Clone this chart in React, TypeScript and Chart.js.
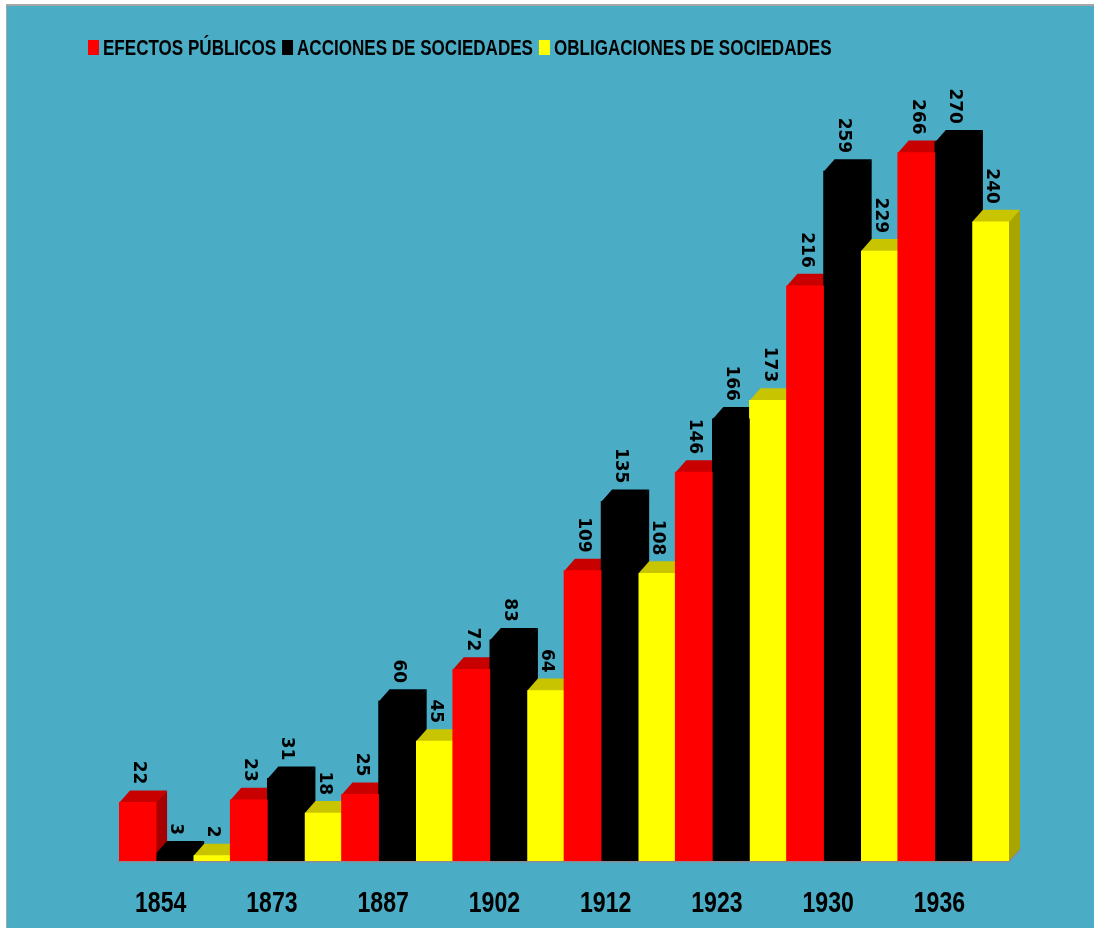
import React, { useEffect, useRef } from "react";
import { Chart, registerables } from "chart.js";

Chart.register(...registerables);

// ---- data ----
const categories = ["1854", "1873", "1887", "1902", "1912", "1923", "1930", "1936"];
const efectosPublicos = [22, 23, 25, 72, 109, 146, 216, 266];
const accionesSociedades = [3, 31, 60, 83, 135, 166, 259, 270];
const obligacionesSociedades = [2, 18, 45, 64, 108, 173, 229, 240];
const seriesNames = ["EFECTOS PÚBLICOS", "ACCIONES DE SOCIEDADES", "OBLIGACIONES DE SOCIEDADES"];

// ---- styles ----
const frontColors = ["#FF0000", "#000000", "#FFFF00"];
const topColors = ["#C80000", "#000000", "#C8C400"];
const sideColors = ["#A60000", "#000000", "#A8A400"];
const BG = "#4BACC6";
const DX = 11;
const DY = 12;
const W = 1094;
const H = 928;

const decorPlugin = {
  id: "decor3d",
  beforeDraw(chart: any) {
    const ctx = chart.ctx as CanvasRenderingContext2D;
    ctx.save();
    ctx.fillStyle = "#FFFFFF";
    ctx.fillRect(0, 0, W, H);
    ctx.fillStyle = BG;
    ctx.fillRect(7, 6, W - 7, H - 6);
    ctx.fillStyle = "#A6A6A6";
    ctx.fillRect(6, 4, W - 6, 2);
    ctx.fillRect(6, 4, 1, H - 4);
    ctx.restore();
  },
  beforeDatasetsDraw(chart: any) {
    const ctx = chart.ctx as CanvasRenderingContext2D;
    const metas = chart.data.datasets.map((_: any, i: number) => chart.getDatasetMeta(i));
    ctx.save();
    for (let c = 0; c < categories.length; c++) {
      metas.forEach((meta: any, d: number) => {
        const el = meta.data[c];
        if (!el) return;
        const { x, y, base, width } = el.getProps(["x", "y", "base", "width"], true);
        const l = x - width / 2;
        const r = x + width / 2;
        ctx.fillStyle = sideColors[d];
        ctx.beginPath();
        ctx.moveTo(r - 0.5, y);
        ctx.lineTo(r + DX, y - DY);
        ctx.lineTo(r + DX, base - DY);
        ctx.lineTo(r - 0.5, base);
        ctx.closePath();
        ctx.fill();
        ctx.fillStyle = topColors[d];
        ctx.beginPath();
        ctx.moveTo(l, y + 0.5);
        ctx.lineTo(l + DX, y - DY);
        ctx.lineTo(r + DX, y - DY);
        ctx.lineTo(r, y + 0.5);
        ctx.closePath();
        ctx.fill();
      });
    }
    ctx.restore();
  },
  afterDatasetsDraw(chart: any) {
    const ctx = chart.ctx as CanvasRenderingContext2D;
    const area = chart.chartArea;
    const xScale = chart.scales.x;
    ctx.save();
    // floor edge
    ctx.strokeStyle = "#8C8C96";
    ctx.lineWidth = 1.5;
    ctx.beginPath();
    ctx.moveTo(area.left - 2, area.bottom + 0.75);
    ctx.lineTo(area.right, area.bottom + 0.75);
    ctx.lineTo(area.right + DX, area.bottom + 0.75 - DY);
    ctx.stroke();

    // data labels
    ctx.fillStyle = "#000000";
    ctx.font = 'bold 17px "DejaVu Sans"';
    ctx.textAlign = "right";
    ctx.textBaseline = "middle";
    chart.data.datasets.forEach((ds: any, d: number) => {
      const meta = chart.getDatasetMeta(d);
      meta.data.forEach((el: any, i: number) => {
        const { x, y } = el.getProps(["x", "y"], true);
        ctx.save();
        ctx.translate(x + 1, y - 18);
        ctx.rotate(Math.PI / 2);
        ctx.fillText(String(ds.data[i]), 0, 0);
        ctx.restore();
      });
    });

    // category labels
    ctx.font = 'bold 30px "Liberation Sans"';
    ctx.textAlign = "center";
    ctx.textBaseline = "alphabetic";
    categories.forEach((lab, i) => {
      const cx = xScale.getPixelForValue(i) - 14;
      ctx.save();
      ctx.translate(cx, 912);
      ctx.scale(0.77, 1);
      ctx.fillText(lab, 0, 0);
      ctx.restore();
    });

    // legend
    ctx.font = 'bold 22px "Liberation Sans"';
    ctx.textAlign = "left";
    let lx = 88;
    seriesNames.forEach((name, d) => {
      ctx.fillStyle = frontColors[d];
      ctx.fillRect(lx, 40, 11, 15);
      lx += 15;
      const w = ctx.measureText(name).width * 0.775;
      ctx.save();
      ctx.translate(lx, 55);
      ctx.scale(0.775, 1);
      ctx.fillStyle = "#000000";
      ctx.fillText(name, 0, 0);
      ctx.restore();
      lx += w + 6;
    });
    ctx.restore();
  },
};

export default function App() {
  const ref = useRef<HTMLCanvasElement | null>(null);
  useEffect(() => {
    if (!ref.current) return;
    const series = [efectosPublicos, accionesSociedades, obligacionesSociedades];
    const chart = new Chart(ref.current, {
      type: "bar",
      data: {
        labels: categories,
        datasets: series.map((vals, d) => ({
          label: seriesNames[d],
          data: vals,
          backgroundColor: frontColors[d],
          borderWidth: 0,
          categoryPercentage: 1,
          barPercentage: 1,
        })),
      },
      options: {
        responsive: false,
        animation: false,
        layout: { padding: { left: 119, right: W - 1009, top: 62, bottom: H - 861 } },
        plugins: { legend: { display: false }, tooltip: { enabled: false } },
        scales: {
          x: { display: false },
          y: { display: false, min: 0, max: 300 },
        },
      },
      plugins: [decorPlugin],
    } as any);
    return () => chart.destroy();
  }, []);
  return (
    <canvas
      ref={ref}
      width={W}
      height={H}
      style={{ position: "fixed", left: 0, top: 0, display: "block" }}
    />
  );
}
